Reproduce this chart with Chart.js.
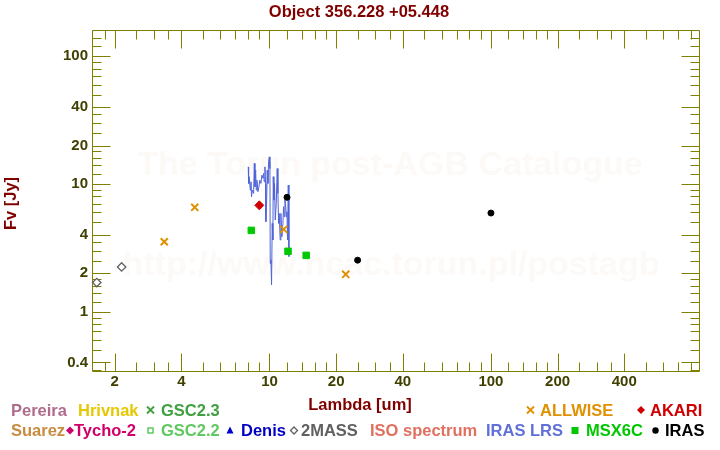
<!DOCTYPE html>
<html><head><meta charset="utf-8">
<script src="https://cdn.jsdelivr.net/npm/chart.js@4.4.1/dist/chart.umd.min.js"></script>
<style>html,body{margin:0;padding:0;background:#fff}</style>
</head><body>
<canvas id="c" width="720" height="450"></canvas>
<script>
// ---------- data ----------
const titleText = 'Object 356.228 +05.448';
const xTitle = 'Lambda [um]';
const yTitle = 'Fv [Jy]';

const xMin = 1.58, xMax = 870;
const yMin = 0.343, yMax = 160.6;

const xMajor = [2, 4, 10, 20, 40, 100, 200, 400];
const xTickLabels = ['2', '4', '10', '20', '40', '100', '200', '400'];
const xMinor = [1.8, 2.5, 3, 3.5, 5, 6, 7, 8, 9, 12, 14, 16, 18, 25, 30, 35, 50, 60, 70, 80, 90, 120, 140, 160, 180, 250, 300, 350, 500, 600, 700, 800];

const yMajor = [0.4, 1, 2, 4, 10, 20, 40, 100];
const yTickLabels = ['0.4', '1', '2', '4', '10', '20', '40', '100'];
const yMinor = [0.35, 0.5, 0.6, 0.7, 0.8, 0.9, 1.2, 1.4, 1.6, 1.8, 2.5, 3, 3.5, 5, 6, 7, 8, 9, 12, 14, 16, 18, 25, 30, 35, 50, 60, 70, 80, 90, 120, 140, 160];

const twomassLam = [1.66, 2.15];
const twomassFlux = [1.69, 2.24];
const allwiseLam = [3.35, 4.6, 11.6, 22.1];
const allwiseFlux = [3.53, 6.56, 4.41, 1.96];
const akariLam = [9.0];
const akariFlux = [6.80];
const msxLam = [8.28, 12.13, 14.65];
const msxFlux = [4.33, 2.97, 2.76];
const irasLam = [12, 25, 100];
const irasFlux = [7.86, 2.53, 5.92];
const lrsLam = [8.02, 8.05, 8.10, 8.19, 8.25, 8.30, 8.36, 8.48, 8.54, 8.60, 8.66, 8.72, 8.78, 8.87, 8.96, 9.05, 9.15, 9.24, 9.34, 9.41, 9.47, 9.54, 9.60, 9.63, 9.70, 9.77, 9.84, 9.91, 9.98, 10.05, 10.08, 10.15, 10.22, 10.29, 10.36, 10.40, 10.47, 10.54, 10.62, 10.73, 10.84, 10.92, 10.99, 11.07, 11.18, 11.26, 11.38, 11.50, 11.58, 11.66, 11.74, 11.82, 11.91, 11.99, 12.07, 12.16, 12.24];
const lrsFlux = [13.6, 10.1, 11.4, 8.96, 10.4, 7.95, 8.96, 8.44, 14.5, 9.51, 12.8, 8.96, 10.7, 8.70, 9.51, 10.7, 10.1, 11.7, 11.1, 12.1, 10.4, 13.6, 10.1, 5.06, 6.64, 12.8, 10.1, 14.9, 16.3, 13.2, 2.39, 2.54, 1.62, 4.91, 3.64, 11.4, 7.48, 10.1, 5.22, 7.05, 13.2, 8.44, 4.91, 5.88, 3.64, 5.88, 3.86, 4.91, 6.64, 5.54, 7.48, 7.05, 5.54, 6.06, 3.64, 9.80, 2.70];

const legendRow1 = ['Pereira', 'Hrivnak', 'GSC2.3', 'ALLWISE', 'AKARI'];
const legendRow2 = ['Suarez', 'Tycho-2', 'GSC2.2', 'Denis', '2MASS', 'ISO spectrum', 'IRAS LRS', 'MSX6C', 'IRAS'];
const watermark1 = 'The Torun post-AGB Catalogue';
const watermark2 = 'http://www.ncac.torun.pl/postagb';

// ---------- styling ----------
const FONT = "'Liberation Sans', Arial, sans-serif";
const AXIS_COLOR = '#808000';
const TICK_TEXT = '#404000';
const DARKRED = '#800000';

const pts = (xs, ys) => xs.map((v, i) => ({x: v, y: ys[i]}));

const bgPlugin = {
  id: 'bg',
  beforeDraw(chart) {
    const ctx = chart.ctx;
    ctx.save();
    ctx.fillStyle = '#ffffff';
    ctx.fillRect(0, 0, chart.width, chart.height);
    ctx.font = 'bold 34px ' + FONT;
    ctx.fillStyle = '#fcf9f6';
    ctx.textAlign = 'center';
    ctx.textBaseline = 'alphabetic';
    ctx.fillText(watermark1, 390, 175);
    ctx.fillText(watermark2, 391, 275);
    ctx.restore();
  }
};

const framePlugin = {
  id: 'frame',
  beforeDatasetsDraw(chart) {
    const {ctx, chartArea: a, scales} = chart;
    const sx = scales.x, sy = scales.y;
    ctx.save();
    ctx.strokeStyle = AXIS_COLOR;
    ctx.lineWidth = 1;
    const L = Math.round(a.left) + 0.5, R = Math.round(a.right) + 0.5;
    const T = Math.round(a.top) + 0.5, B = Math.round(a.bottom) + 0.5;
    ctx.beginPath();
    const xt = (v, len) => {
      const p = Math.round(sx.getPixelForValue(v)) + 0.5;
      ctx.moveTo(p, B); ctx.lineTo(p, B - len);
      ctx.moveTo(p, T); ctx.lineTo(p, T + len);
    };
    const yt = (v, len) => {
      const p = Math.round(sy.getPixelForValue(v)) + 0.5;
      ctx.moveTo(L, p); ctx.lineTo(L + len, p);
      ctx.moveTo(R, p); ctx.lineTo(R - len, p);
    };
    xMajor.forEach(v => xt(v, 18));
    xMinor.forEach(v => xt(v, 9));
    yMajor.forEach(v => yt(v, 18));
    yMinor.forEach(v => yt(v, 9));
    ctx.moveTo(L, T); ctx.lineTo(R, T); ctx.lineTo(R, B); ctx.lineTo(L, B); ctx.closePath();
    ctx.stroke();
    ctx.restore();
  }
};

function sym(ctx, type, cx, cy, color) {
  ctx.save();
  ctx.strokeStyle = color; ctx.fillStyle = color;
  ctx.beginPath();
  if (type === 'x') {
    ctx.lineWidth = 1.8;
    ctx.moveTo(cx - 3.5, cy - 3.5); ctx.lineTo(cx + 3.5, cy + 3.5);
    ctx.moveTo(cx + 3.5, cy - 3.5); ctx.lineTo(cx - 3.5, cy + 3.5);
    ctx.stroke();
  } else if (type === 'diamond') {
    ctx.moveTo(cx, cy - 4); ctx.lineTo(cx + 4, cy); ctx.lineTo(cx, cy + 4); ctx.lineTo(cx - 4, cy); ctx.closePath();
    ctx.fill();
  } else if (type === 'odiamond') {
    ctx.lineWidth = 1.3;
    ctx.moveTo(cx, cy - 3.5); ctx.lineTo(cx + 3.5, cy); ctx.lineTo(cx, cy + 3.5); ctx.lineTo(cx - 3.5, cy); ctx.closePath();
    ctx.stroke();
  } else if (type === 'osquare') {
    ctx.lineWidth = 1.5;
    ctx.strokeRect(cx - 2.5, cy - 2.5, 5, 5);
  } else if (type === 'square') {
    ctx.fillRect(cx - 3.5, cy - 3.5, 7, 7);
  } else if (type === 'tri') {
    ctx.moveTo(cx, cy - 4); ctx.lineTo(cx + 3.5, cy + 3); ctx.lineTo(cx - 3.5, cy + 3); ctx.closePath();
    ctx.fill();
  } else if (type === 'dot') {
    ctx.arc(cx, cy, 3.2, 0, Math.PI * 2); ctx.fill();
  }
  ctx.restore();
}

const textPlugin = {
  id: 'texts',
  afterDraw(chart) {
    const ctx = chart.ctx;
    ctx.save();
    ctx.font = 'bold 16.5px ' + FONT;
    ctx.textBaseline = 'alphabetic';
    ctx.fillStyle = DARKRED;
    ctx.textAlign = 'center';
    // chart title
    ctx.fillText(titleText, 359, 16.7);
    // axis titles
    ctx.fillText(xTitle, 360, 410);
    ctx.save();
    ctx.translate(15.5, 203.5);
    ctx.rotate(-Math.PI / 2);
    ctx.fillText(yTitle, 0, 0);
    ctx.restore();
    // legend
    ctx.textAlign = 'left';
    const r1 = 416, r2 = 436;
    const c1 = ['#b06c8c', '#e6c800', '#3fa03f', '#e09000', '#d00000'];
    const x1 = [11, 78, 161, 540, 650];
    legendRow1.forEach((t, i) => { ctx.fillStyle = c1[i]; ctx.fillText(t, x1[i], r1); });
    const c2 = ['#c88c40', '#d0006a', '#60c860', '#0000c8', '#606060', '#e07060', '#6070d8', '#00c800', '#000000'];
    const x2 = [11, 74, 161, 241, 301, 370, 486, 586, 665];
    legendRow2.forEach((t, i) => { ctx.fillStyle = c2[i]; ctx.fillText(t, x2[i], r2); });
    sym(ctx, 'x', 150.5, 410, '#3fa03f');
    sym(ctx, 'x', 530.5, 410, '#e09000');
    sym(ctx, 'diamond', 641, 410, '#d00000');
    sym(ctx, 'diamond', 70, 430.5, '#d0006a');
    sym(ctx, 'osquare', 150.5, 430.5, '#60c860');
    sym(ctx, 'tri', 230, 430.5, '#0000c8');
    sym(ctx, 'odiamond', 294, 430.5, '#606060');
    sym(ctx, 'square', 575, 430.5, '#00c800');
    sym(ctx, 'dot', 655.5, 430.5, '#000000');
    ctx.restore();
  }
};

const tickFont = {family: FONT, size: 15, weight: 'bold'};

new Chart(document.getElementById('c'), {
  type: 'scatter',
  data: {
    datasets: [
      {label: '2MASS', data: pts(twomassLam, twomassFlux), pointStyle: 'rectRot', pointRadius: 4.2, borderWidth: 1.3, borderColor: '#606060', backgroundColor: '#ffffff', order: 1},
      {label: 'ALLWISE', data: pts(allwiseLam, allwiseFlux), pointStyle: 'crossRot', pointRadius: 5, borderWidth: 2, borderColor: '#e09000', backgroundColor: '#e09000', order: 1},
      {label: 'AKARI', data: pts(akariLam, akariFlux), pointStyle: 'rectRot', pointRadius: 4.5, borderWidth: 1, borderColor: '#d00000', backgroundColor: '#d00000', order: 1},
      {label: 'MSX6C', data: pts(msxLam, msxFlux), pointStyle: 'rect', pointRadius: 4.6, borderWidth: 1, borderColor: '#00c800', backgroundColor: '#00c800', order: 1},
      {label: 'IRAS', data: pts(irasLam, irasFlux), pointStyle: 'circle', pointRadius: 3, borderWidth: 1, borderColor: '#000000', backgroundColor: '#000000', order: 1},
      {label: 'IRAS LRS', data: pts(lrsLam, lrsFlux), showLine: true, pointRadius: 0, borderWidth: 1, borderColor: '#5064d8', backgroundColor: '#5064d8', order: 5}
    ]
  },
  options: {
    responsive: false,
    animation: false,
    devicePixelRatio: 1,
    clip: false,
    events: [],
    layout: {padding: {left: 0, right: 21, top: 30, bottom: 0}},
    plugins: {
      legend: {display: false},
      tooltip: {enabled: false},
      title: {display: false}
    },
    scales: {
      x: {
        type: 'logarithmic', position: 'bottom', min: xMin, max: xMax, bounds: 'data',
        grid: {display: false, drawTicks: false}, border: {display: false},
        ticks: {autoSkip: false, maxRotation: 0, minRotation: 0, padding: 2, color: TICK_TEXT, font: tickFont,
          callback: (v, i) => xTickLabels[i]},
        afterBuildTicks: s => { s.ticks = xMajor.map(v => ({value: v})); },
        afterFit: s => { s.height = 79; s.paddingLeft = 0; s.paddingRight = 0; }
      },
      y: {
        type: 'logarithmic', position: 'left', min: yMin, max: yMax, bounds: 'data',
        grid: {display: false, drawTicks: false}, border: {display: false},
        ticks: {autoSkip: false, padding: 4, color: TICK_TEXT, font: tickFont,
          callback: (v, i) => yTickLabels[i]},
        afterBuildTicks: s => { s.ticks = yMajor.map(v => ({value: v})); },
        afterFit: s => { s.width = 92; s.paddingTop = 0; s.paddingBottom = 0; }
      }
    }
  },
  plugins: [bgPlugin, framePlugin, textPlugin]
});
</script>
</body></html>
